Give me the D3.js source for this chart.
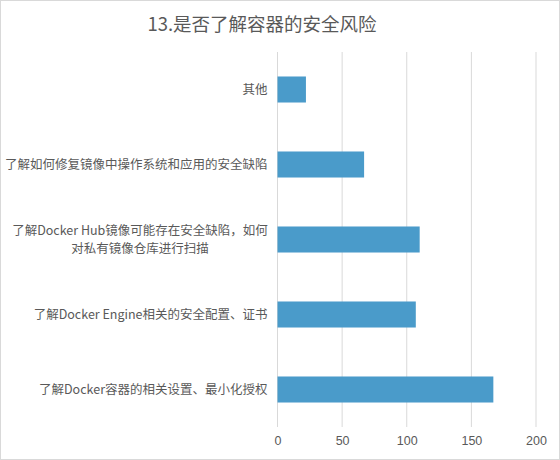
<!DOCTYPE html>
<html>
<head>
<meta charset="utf-8">
<script src="https://cdn.jsdelivr.net/npm/d3@7"></script>
<style>
  body { margin: 0; background: #fff; }
  text { font-family: "Noto Sans CJK SC", "Liberation Sans", sans-serif; }
</style>
</head>
<body>
<div id="chart"></div>
<script>
// categories, top to bottom, each split into display lines
const categories = [
  ["其他"],
  ["了解如何修复镜像中操作系统和应用的安全缺陷"],
  ["了解Docker Hub镜像可能存在安全缺陷，如何", "对私有镜像仓库进行扫描"],
  ["了解Docker Engine相关的安全配置、证书"],
  ["了解Docker容器的相关设置、最小化授权"]
];
const values = [22, 67, 110, 107, 167];
const xTicks = [0, 50, 100, 150, 200];
const title = "13.是否了解容器的安全风险";

const W = 560, H = 460;
const margin = { top: 52, right: 24, bottom: 33, left: 277.5 };
const innerW = W - margin.left - margin.right;
const innerH = H - margin.top - margin.bottom;

const svg = d3.select("#chart").append("svg")
  .attr("width", W)
  .attr("height", H);

// chart border
svg.append("rect")
  .attr("x", 0.5).attr("y", 0.5)
  .attr("width", W - 1).attr("height", H - 1)
  .attr("fill", "#fff")
  .attr("stroke", "#d9d9d9");

svg.append("text")
  .attr("x", 262)
  .attr("y", 31)
  .attr("text-anchor", "middle")
  .attr("font-size", 18.5)
  .attr("fill", "#595959")
  .text(title);

const g = svg.append("g")
  .attr("transform", "translate(" + margin.left + "," + margin.top + ")");

const x = d3.scaleLinear().domain([0, 200]).range([0, 258.5]);
const y = d3.scaleBand()
  .domain(d3.range(categories.length))
  .range([0, innerH])
  .paddingInner(0.653)
  .paddingOuter(0.3265);

// gridlines
g.selectAll("line.grid")
  .data(xTicks)
  .enter().append("line")
  .attr("class", "grid")
  .attr("x1", d => x(d)).attr("x2", d => x(d))
  .attr("y1", 0).attr("y2", innerH)
  .attr("stroke", "#d9d9d9")
  .attr("stroke-width", 1);

// bars
g.selectAll("rect.bar")
  .data(values)
  .enter().append("rect")
  .attr("class", "bar")
  .attr("x", x(0))
  .attr("y", (d, i) => y(i))
  .attr("width", d => x(d) - x(0))
  .attr("height", y.bandwidth())
  .attr("fill", "#4a9bca");

// x axis labels
const xAxis = g.append("g")
  .attr("transform", "translate(0," + innerH + ")")
  .call(d3.axisBottom(x).tickValues(xTicks).tickSize(0).tickPadding(9));
xAxis.select(".domain").remove();
xAxis.selectAll("text")
  .attr("font-size", 12.5)
  .attr("fill", "#595959")
  .style("font-family", "\"Liberation Sans\", sans-serif");

// category labels; wrapped labels are centred like Excel does
const lh = 18;
g.selectAll("g.cat")
  .data(categories)
  .enter().append("g")
  .attr("class", "cat")
  .attr("transform", (d, i) => "translate(0," + (y(i) + y.bandwidth() / 2) + ")")
  .each(function(lines) {
    const off = -(lines.length - 1) * lh / 2;
    const multi = lines.length > 1;
    d3.select(this).selectAll("text")
      .data(lines)
      .enter().append("text")
      .attr("x", multi ? -137.5 : -10)
      .attr("y", (s, k) => off + k * lh)
      .attr("dy", "0.35em")
      .attr("text-anchor", multi ? "middle" : "end")
      .attr("font-size", 12.5)
      .attr("fill", "#595959")
      .text(s => s);
  });
</script>
</body>
</html>
